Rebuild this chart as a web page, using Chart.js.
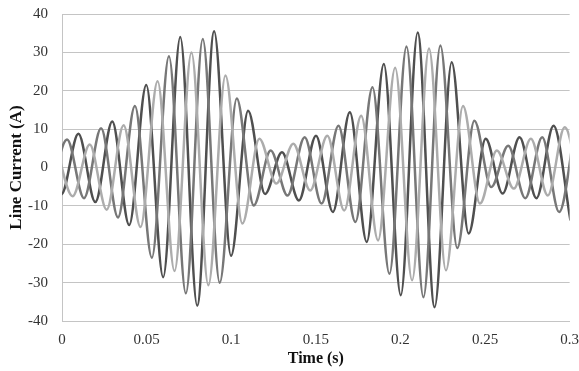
<!DOCTYPE html>
<html>
<head>
<meta charset="utf-8">
<script src="https://cdn.jsdelivr.net/npm/chart.js@4"></script>
<style>
  html, body { margin: 0; padding: 0; background: #fff; }
  #wrap { width: 579px; height: 371px; }
</style>
</head>
<body>
<div id="wrap"><canvas id="currentChart" width="579" height="371"></canvas></div>
<script>
// peaks and troughs: time (s) and current (A)
const phaseATime = [-0.0070, 0.0030, 0.0130, 0.0231, 0.0331, 0.0431, 0.0531, 0.0632, 0.0732, 0.0832, 0.0932, 0.1033, 0.1133, 0.1233, 0.1333, 0.1434, 0.1534, 0.1634, 0.1734, 0.1835, 0.1935, 0.2036, 0.2136, 0.2236, 0.2336, 0.2437, 0.2537, 0.2637, 0.2738, 0.2838, 0.2938, 0.3038];
const phaseA = [-7, 7.3, -8, 10.2, -13, 16, -23.5, 29, -32.8, 33.5, -30, 18, -9.9, 4.4, -7.3, 7.9, -9.4, 10.9, -14.2, 20.9, -27.7, 31.5, -33.8, 31.8, -21, 12.2, -5.1, 5.7, -8, 7.9, -11.6, 12];

const phaseBTime = [-0.0104, -0.0004, 0.0097, 0.0197, 0.0297, 0.0397, 0.0498, 0.0598, 0.0699, 0.0799, 0.0899, 0.0999, 0.1100, 0.1200, 0.1300, 0.1400, 0.1501, 0.1601, 0.1701, 0.1801, 0.1902, 0.2002, 0.2102, 0.2202, 0.2303, 0.2403, 0.2504, 0.2604, 0.2704, 0.2804, 0.2905, 0.3005];
const phaseB = [7, -7, 8.8, -9, 12, -15, 21.5, -28.6, 34, -36, 35.5, -23, 14.8, -6.9, 4, -8.6, 8.3, -11.6, 14.4, -19.4, 27, -33.3, 35.2, -36.4, 27.4, -17.2, 7.5, -6.8, 7.9, -8, 10.9, -13.8];

const phaseCTime = [-0.0037, 0.0063, 0.0164, 0.0264, 0.0364, 0.0464, 0.0565, 0.0665, 0.0765, 0.0865, 0.0966, 0.1066, 0.1166, 0.1267, 0.1367, 0.1467, 0.1568, 0.1668, 0.1768, 0.1868, 0.1969, 0.2069, 0.2169, 0.2269, 0.2370, 0.2470, 0.2570, 0.2670, 0.2771, 0.2871, 0.2971, 0.3071];
const phaseC = [6, -7.5, 6, -11, 11, -15.5, 22.5, -27, 30, -30.7, 24, -14.6, 7.5, -4.2, 6.2, -6, 8.3, -11.2, 13.5, -19, 26, -29.4, 31, -26.8, 16, -9.4, 4.4, -5.5, 7.5, -7.3, 10.5, -8];

const timeTicks = [0, 0.05, 0.1, 0.15, 0.2, 0.25, 0.3];
const currentTicks = [-40, -30, -20, -10, 0, 10, 20, 30, 40];

const toPoints = (ts, vs) => ts.map((t, i) => ({ x: t, y: vs[i] }));

const serif = "'Liberation Serif', 'Times New Roman', serif";
const gridGray = "#c4c4c4";
const clear = "rgba(0,0,0,0)";

const phase = (ts, vs, color) => ({
  data: toPoints(ts, vs),
  borderColor: color,
  borderWidth: 2.5,
  pointRadius: 0,
  fill: false,
  cubicInterpolationMode: "monotone",
});

new Chart(document.getElementById("currentChart").getContext("2d"), {
  type: "line",
  data: {
    datasets: [
      phase(phaseCTime, phaseC, "#acacac"),
      phase(phaseATime, phaseA, "#777777"),
      phase(phaseBTime, phaseB, "#4f4f4f"),
    ],
  },
  options: {
    responsive: false,
    animation: false,
    events: [],
    layout: { padding: { top: 14, right: 0, bottom: 0, left: 0 } },
    plugins: { legend: { display: false }, tooltip: { enabled: false } },
    scales: {
      x: {
        type: "linear",
        min: 0,
        max: 0.3,
        afterBuildTicks: (s) => { s.ticks = timeTicks.map((v) => ({ value: v })); },
        afterFit: (s) => { s.height = 50; },
        // invisible grid, tick marks only used to push the labels down
        grid: { color: clear, tickColor: clear, drawTicks: true, tickLength: 10 },
        border: { display: true, color: gridGray },
        ticks: {
          padding: 0,
          color: "#333",
          font: { family: serif, size: 15 },
          callback: (v) => String(+v.toFixed(2)),
          maxRotation: 0,
        },
        title: {
          display: true,
          text: "Time (s)",
          color: "#111",
          font: { family: serif, size: 16, weight: "bold" },
          padding: { top: 0, bottom: 3 },
        },
      },
      y: {
        min: -40,
        max: 40,
        afterBuildTicks: (s) => { s.ticks = currentTicks.map((v) => ({ value: v })); },
        afterFit: (s) => { s.width = 62; },
        grid: { color: gridGray, tickColor: clear, drawTicks: true, tickLength: 13 },
        border: { display: true, color: gridGray },
        ticks: {
          padding: 1,
          color: "#333",
          font: { family: serif, size: 15 },
        },
        title: {
          display: true,
          text: "Line Current (A)",
          color: "#111",
          font: { family: serif, size: 17, weight: "bold" },
          padding: { top: 6, bottom: 0 },
        },
      },
    },
  },
});
</script>
</body>
</html>
